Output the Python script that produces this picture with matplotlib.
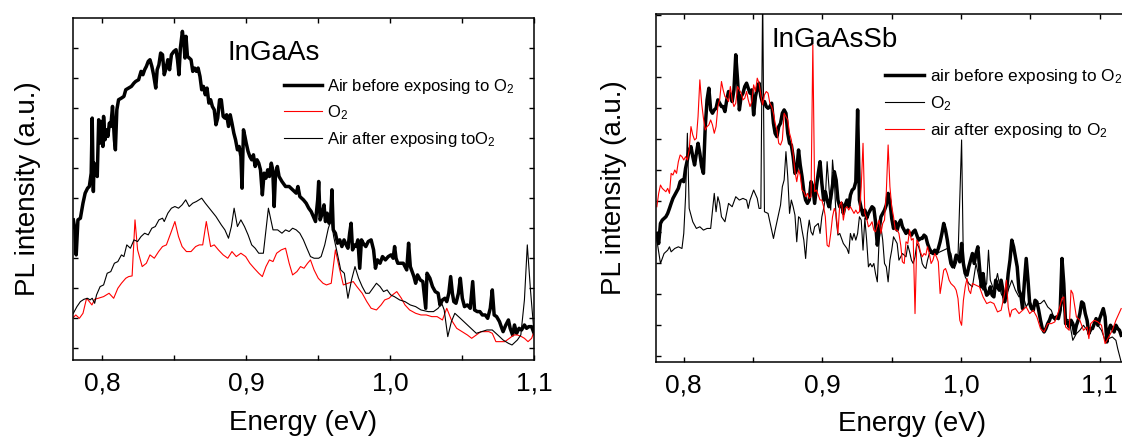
import matplotlib
matplotlib.use('Agg')
import matplotlib.pyplot as plt
from matplotlib.ticker import MultipleLocator, FixedLocator, FuncFormatter

plt.rcParams['font.family'] = 'Liberation Sans'
plt.rcParams['mathtext.fontset'] = 'custom'
plt.rcParams['mathtext.rm'] = 'Liberation Sans'
plt.rcParams['mathtext.it'] = 'Liberation Sans'

# ---------------- InGaAs (left panel) ----------------
energy_ingaas_before = [
    0.7802, 0.7814, 0.7822, 0.7834, 0.7851, 0.7869, 0.7884, 0.7901, 0.7913, 0.7926,
    0.7933, 0.7941, 0.7946, 0.7958, 0.7968, 0.7978, 0.7988, 0.7995, 0.8007, 0.8012,
    0.8022, 0.8032, 0.8042, 0.8052, 0.8062, 0.8074, 0.8087, 0.8094, 0.8104, 0.8116,
    0.8136, 0.8153, 0.8166, 0.8186, 0.8205, 0.8223, 0.8235, 0.8255, 0.8272, 0.8285,
    0.8297, 0.8309, 0.8322, 0.8334, 0.8347, 0.8359, 0.8374, 0.8384, 0.8396, 0.8408,
    0.8421, 0.8433, 0.8446, 0.8458, 0.8470, 0.8483, 0.8500, 0.8515, 0.8525, 0.8535,
    0.8545, 0.8552, 0.8559, 0.8569, 0.8577, 0.8584, 0.8594, 0.8606, 0.8619, 0.8631,
    0.8644, 0.8656, 0.8668, 0.8681, 0.8693, 0.8705, 0.8718, 0.8730, 0.8743, 0.8755,
    0.8767, 0.8780, 0.8792, 0.8804, 0.8817, 0.8829, 0.8842, 0.8854, 0.8866, 0.8879,
    0.8891, 0.8903, 0.8916, 0.8928, 0.8941, 0.8953, 0.8965, 0.8973, 0.8983, 0.8993,
    0.9002, 0.9015, 0.9027, 0.9040, 0.9052, 0.9064, 0.9077, 0.9089, 0.9101, 0.9114,
    0.9126, 0.9139, 0.9151, 0.9163, 0.9176, 0.9186, 0.9196, 0.9205, 0.9218, 0.9230,
    0.9250, 0.9275, 0.9300, 0.9324, 0.9349, 0.9361, 0.9374, 0.9399, 0.9418, 0.9436,
    0.9453, 0.9468, 0.9483, 0.9498, 0.9505, 0.9515, 0.9530, 0.9542, 0.9552, 0.9564,
    0.9577, 0.9587, 0.9597, 0.9606, 0.9621, 0.9636, 0.9651, 0.9666, 0.9681, 0.9696,
    0.9708, 0.9720, 0.9730, 0.9740, 0.9752, 0.9765, 0.9777, 0.9790, 0.9802, 0.9814,
    0.9832, 0.9849, 0.9869, 0.9886, 0.9899, 0.9913, 0.9931, 0.9948, 0.9968, 0.9988,
    1.0007, 1.0022, 1.0032, 1.0042, 1.0054, 1.0067, 1.0092, 1.0116, 1.0129, 1.0141,
    1.0166, 1.0178, 1.0191, 1.0210, 1.0228, 1.0248, 1.0257, 1.0277, 1.0295, 1.0314,
    1.0334, 1.0347, 1.0364, 1.0381, 1.0394, 1.0408, 1.0421, 1.0433, 1.0443, 1.0458,
    1.0475, 1.0488, 1.0502, 1.0517, 1.0537, 1.0557, 1.0574, 1.0587, 1.0606, 1.0624,
    1.0641, 1.0661, 1.0678, 1.0696, 1.0710, 1.0723, 1.0740, 1.0760, 1.0772, 1.0785,
    1.0804, 1.0822, 1.0834, 1.0851, 1.0864, 1.0879, 1.0896, 1.0913, 1.0933, 1.0948,
    1.0963, 1.0983, 1.1000]
pl_ingaas_before = [
    420, 390, 315, 420, 425, 470, 500, 515, 520, 560,
    725, 505, 590, 580, 550, 720, 650, 715, 640, 730,
    660, 690, 670, 710, 700, 760, 660, 630, 750, 780,
    785, 790, 810, 815, 820, 830, 835, 840, 865, 855,
    870, 880, 895, 900, 880, 855, 815, 870, 885, 920,
    915, 855, 875, 900, 870, 915, 925, 930, 900, 855,
    935, 960, 985, 950, 905, 970, 910, 905, 900, 865,
    875, 865, 875, 850, 810, 820, 795, 815, 770, 780,
    760, 750, 705, 725, 780, 780, 730, 725, 735, 700,
    735, 710, 680, 660, 630, 640, 610, 515, 690, 670,
    650, 625, 610, 600, 615, 580, 600, 590, 570, 495,
    560, 545, 570, 550, 590, 570, 460, 555, 580, 550,
    535, 520, 520, 510, 500, 520, 490, 480, 470, 455,
    445, 430, 415, 480, 535, 420, 440, 465, 415, 440,
    410, 420, 510, 390, 380, 350, 360, 340, 360, 345,
    335, 380, 410, 330, 345, 340, 360, 275, 360, 350,
    340, 355, 360, 330, 275, 300, 290, 310, 300, 310,
    315, 305, 340, 305, 290, 290, 290, 270, 350, 280,
    250, 230, 255, 240, 235, 155, 260, 245, 220, 205,
    200, 165, 180, 185, 175, 200, 250, 200, 175, 170,
    200, 245, 185, 160, 165, 155, 235, 150, 145, 145,
    135, 135, 125, 155, 210, 135, 130, 115, 100, 85,
    105, 120, 95, 75, 105, 80, 95, 90, 105, 95,
    100, 100, 80]

energy_ingaas_o2 = [
    0.7797, 0.7819, 0.7844, 0.7869, 0.7894, 0.7913, 0.7931, 0.7950, 0.7975, 0.8012,
    0.8050, 0.8082, 0.8111, 0.8136, 0.8166, 0.8186, 0.8210, 0.8230, 0.8248, 0.8280,
    0.8309, 0.8334, 0.8364, 0.8394, 0.8421, 0.8448, 0.8478, 0.8507, 0.8532, 0.8557,
    0.8587, 0.8619, 0.8651, 0.8676, 0.8700, 0.8725, 0.8755, 0.8780, 0.8809, 0.8842,
    0.8874, 0.8903, 0.8933, 0.8965, 0.8998, 0.9027, 0.9057, 0.9089, 0.9114, 0.9139,
    0.9163, 0.9188, 0.9213, 0.9245, 0.9275, 0.9300, 0.9324, 0.9354, 0.9379, 0.9403,
    0.9428, 0.9448, 0.9473, 0.9502, 0.9535, 0.9559, 0.9592, 0.9621, 0.9646, 0.9676,
    0.9708, 0.9745, 0.9770, 0.9807, 0.9839, 0.9869, 0.9906, 0.9938, 0.9963, 0.9993,
    1.0017, 1.0047, 1.0079, 1.0104, 1.0136, 1.0178, 1.0215, 1.0252, 1.0290, 1.0327,
    1.0364, 1.0394, 1.0426, 1.0463, 1.0500, 1.0537, 1.0567, 1.0599, 1.0631, 1.0661,
    1.0686, 1.0710, 1.0735, 1.0760, 1.0797, 1.0829, 1.0859, 1.0884, 1.0913, 1.0933,
    1.0958, 1.0983, 1.1000]
pl_ingaas_o2 = [
    125, 135, 125, 140, 185, 175, 165, 182, 185, 190,
    200, 185, 215, 230, 245, 250, 252, 420, 330, 280,
    290, 315, 305, 325, 340, 345, 380, 415, 370, 340,
    325, 325, 340, 345, 345, 415, 340, 345, 330, 315,
    305, 325, 310, 320, 310, 290, 275, 260, 250, 280,
    300, 295, 320, 330, 335, 290, 255, 265, 280, 275,
    290, 300, 270, 245, 230, 225, 230, 330, 280, 225,
    230, 235, 220, 200, 175, 155, 150, 165, 180, 185,
    195, 205, 185, 165, 150, 140, 135, 135, 130, 130,
    120, 155, 120, 95, 85, 75, 65, 75, 85, 85,
    85, 80, 55, 55, 55, 65, 75, 75, 70, 65,
    55, 65, 85]

energy_ingaas_after = [
    0.7802, 0.7827, 0.7851, 0.7876, 0.7901, 0.7918, 0.7933, 0.7950, 0.7963, 0.7988,
    0.8012, 0.8037, 0.8062, 0.8087, 0.8111, 0.8136, 0.8153, 0.8173, 0.8198, 0.8223,
    0.8248, 0.8272, 0.8297, 0.8322, 0.8347, 0.8371, 0.8396, 0.8421, 0.8433, 0.8458,
    0.8483, 0.8507, 0.8532, 0.8557, 0.8582, 0.8606, 0.8631, 0.8656, 0.8693, 0.8718,
    0.8755, 0.8792, 0.8829, 0.8854, 0.8879, 0.8899, 0.8918, 0.8941, 0.8965, 0.8990,
    0.9015, 0.9040, 0.9064, 0.9089, 0.9121, 0.9156, 0.9188, 0.9220, 0.9250, 0.9275,
    0.9300, 0.9324, 0.9349, 0.9374, 0.9399, 0.9423, 0.9448, 0.9473, 0.9505, 0.9522,
    0.9547, 0.9572, 0.9592, 0.9609, 0.9634, 0.9658, 0.9683, 0.9708, 0.9733, 0.9757,
    0.9782, 0.9807, 0.9832, 0.9856, 0.9881, 0.9906, 0.9931, 0.9955, 0.9980, 1.0005,
    1.0030, 1.0067, 1.0104, 1.0141, 1.0178, 1.0215, 1.0265, 1.0302, 1.0334, 1.0359,
    1.0376, 1.0401, 1.0426, 1.0450, 1.0488, 1.0525, 1.0562, 1.0599, 1.0636, 1.0673,
    1.0710, 1.0748, 1.0785, 1.0822, 1.0847, 1.0884, 1.0908, 1.0933, 1.0953, 1.0975,
    1.1000]
pl_ingaas_after = [
    140, 160, 175, 182, 185, 180, 185, 170, 195, 220,
    225, 260, 265, 290, 295, 315, 310, 345, 335, 360,
    355, 370, 380, 375, 395, 400, 420, 425, 415, 440,
    455, 460, 455, 465, 480, 460, 470, 475, 485, 470,
    450, 430, 405, 390, 365, 400, 455, 400, 420, 400,
    375, 345, 335, 320, 320, 455, 390, 390, 380, 390,
    385, 395, 390, 380, 360, 335, 310, 305, 305, 310,
    345, 395, 420, 370, 320, 270, 260, 185, 240, 280,
    245, 220, 200, 200, 215, 230, 220, 205, 210, 195,
    190, 180, 175, 165, 160, 150, 145, 145, 155, 170,
    150, 70, 115, 140, 125, 110, 95, 80, 85, 90,
    90, 75, 60, 50, 45, 60, 75, 180, 345, 210,
    80]

# ---------------- InGaAsSb (right panel) ----------------
energy_sb_before = [
    0.7806, 0.7819, 0.7832, 0.7845, 0.7858, 0.7871, 0.7884, 0.7897, 0.7909, 0.7922,
    0.7935, 0.7948, 0.7961, 0.7974, 0.7987, 0.8000, 0.8013, 0.8026, 0.8039, 0.8052,
    0.8065, 0.8078, 0.8091, 0.8103, 0.8116, 0.8129, 0.8142, 0.8155, 0.8168, 0.8181,
    0.8194, 0.8207, 0.8220, 0.8233, 0.8246, 0.8259, 0.8272, 0.8284, 0.8297, 0.8310,
    0.8323, 0.8336, 0.8349, 0.8362, 0.8375, 0.8388, 0.8401, 0.8414, 0.8427, 0.8440,
    0.8453, 0.8465, 0.8478, 0.8491, 0.8504, 0.8517, 0.8530, 0.8543, 0.8556, 0.8569,
    0.8582, 0.8595, 0.8608, 0.8621, 0.8634, 0.8647, 0.8659, 0.8672, 0.8685, 0.8698,
    0.8711, 0.8724, 0.8737, 0.8750, 0.8763, 0.8776, 0.8789, 0.8802, 0.8815, 0.8828,
    0.8840, 0.8853, 0.8866, 0.8879, 0.8892, 0.8905, 0.8918, 0.8931, 0.8944, 0.8957,
    0.8970, 0.8983, 0.8996, 0.9009, 0.9021, 0.9034, 0.9047, 0.9060, 0.9073, 0.9086,
    0.9099, 0.9112, 0.9125, 0.9138, 0.9151, 0.9164, 0.9177, 0.9190, 0.9202, 0.9215,
    0.9228, 0.9241, 0.9254, 0.9267, 0.9280, 0.9293, 0.9306, 0.9319, 0.9332, 0.9345,
    0.9358, 0.9371, 0.9383, 0.9396, 0.9409, 0.9422, 0.9435, 0.9448, 0.9461, 0.9474,
    0.9487, 0.9500, 0.9513, 0.9526, 0.9539, 0.9552, 0.9565, 0.9577, 0.9590, 0.9603,
    0.9616, 0.9629, 0.9642, 0.9655, 0.9668, 0.9681, 0.9694, 0.9707, 0.9720, 0.9733,
    0.9746, 0.9758, 0.9771, 0.9784, 0.9797, 0.9810, 0.9823, 0.9836, 0.9849, 0.9862,
    0.9875, 0.9888, 0.9901, 0.9914, 0.9927, 0.9940, 0.9952, 0.9965, 0.9978, 0.9991,
    1.0004, 1.0017, 1.0030, 1.0043, 1.0056, 1.0069, 1.0082, 1.0095, 1.0108, 1.0121,
    1.0133, 1.0146, 1.0159, 1.0172, 1.0185, 1.0198, 1.0211, 1.0224, 1.0237, 1.0250,
    1.0263, 1.0276, 1.0289, 1.0302, 1.0314, 1.0327, 1.0340, 1.0353, 1.0366, 1.0379,
    1.0392, 1.0405, 1.0418, 1.0431, 1.0444, 1.0457, 1.0470, 1.0483, 1.0495, 1.0508,
    1.0521, 1.0534, 1.0547, 1.0560, 1.0573, 1.0586, 1.0599, 1.0612, 1.0625, 1.0638,
    1.0651, 1.0664, 1.0676, 1.0689, 1.0702, 1.0715, 1.0728, 1.0741, 1.0754, 1.0767,
    1.0780, 1.0793, 1.0806, 1.0819, 1.0832, 1.0845, 1.0857, 1.0870, 1.0883, 1.0896,
    1.0909, 1.0922, 1.0935, 1.0948, 1.0961, 1.0974, 1.0987, 1.1000, 1.1013, 1.1026,
    1.1039, 1.1052, 1.1065, 1.1078, 1.1091, 1.1104, 1.1117, 1.1130, 1.1143, 1.1155]
pl_sb_before = [
    385, 355, 415, 425, 430, 435, 445, 460, 475, 490,
    500, 510, 520, 540, 545, 540, 580, 605, 635, 645,
    615, 590, 625, 655, 625, 585, 565, 705, 785, 820,
    755, 745, 755, 760, 785, 775, 765, 765, 750, 785,
    810, 800, 780, 815, 920, 845, 755, 795, 805, 825,
    835, 820, 805, 815, 740, 795, 820, 835, 795, 775,
    780, 765, 760, 765, 775, 715, 685, 675, 705, 715,
    745, 755, 745, 685, 655, 650, 615, 565, 575, 635,
    590, 555, 510, 485, 475, 485, 540, 525, 475, 525,
    565, 600, 535, 485, 510, 485, 465, 490, 530, 570,
    545, 485, 465, 475, 445, 470, 485, 465, 500, 515,
    520, 540, 755, 485, 460, 440, 455, 430, 445, 455,
    465, 460, 420, 350, 395, 435, 445, 455, 470, 505,
    480, 430, 400, 420, 395, 415, 425, 405, 395, 385,
    395, 385, 380, 390, 395, 380, 365, 370, 370, 380,
    375, 355, 340, 330, 325, 335, 325, 340, 360, 385,
    415, 395, 365, 325, 295, 285, 295, 320, 315, 300,
    355, 295, 265, 260, 285, 305, 325, 295, 325, 345,
    285, 225, 265, 220, 200, 205, 225, 200, 195, 245,
    225, 215, 245, 215, 180, 205, 265, 305, 365, 345,
    315, 285, 215, 200, 160, 240, 310, 245, 175, 160,
    155, 185, 180, 155, 125, 100, 90, 100, 115, 125,
    140, 135, 130, 135, 130, 155, 310, 235, 115, 120,
    105, 125, 115, 85, 110, 125, 145, 180, 175, 145,
    125, 85, 100, 100, 115, 130, 110, 130, 145, 160,
    135, 60, 95, 110, 100, 90, 110, 100, 95, 80]

energy_sb_o2 = [
    0.7806, 0.7832, 0.7858, 0.7884, 0.7897, 0.7909, 0.7935, 0.7961, 0.7987, 0.8000,
    0.8013, 0.8026, 0.8039, 0.8065, 0.8091, 0.8116, 0.8142, 0.8168, 0.8194, 0.8220,
    0.8233, 0.8246, 0.8259, 0.8272, 0.8297, 0.8323, 0.8349, 0.8375, 0.8401, 0.8427,
    0.8453, 0.8465, 0.8478, 0.8504, 0.8530, 0.8543, 0.8556, 0.8569, 0.8582, 0.8608,
    0.8621, 0.8634, 0.8647, 0.8659, 0.8685, 0.8698, 0.8711, 0.8724, 0.8737, 0.8750,
    0.8763, 0.8776, 0.8789, 0.8802, 0.8815, 0.8828, 0.8840, 0.8853, 0.8866, 0.8879,
    0.8892, 0.8905, 0.8918, 0.8931, 0.8944, 0.8970, 0.8983, 0.8996, 0.9009, 0.9021,
    0.9034, 0.9047, 0.9060, 0.9073, 0.9086, 0.9099, 0.9112, 0.9125, 0.9151, 0.9177,
    0.9190, 0.9202, 0.9215, 0.9228, 0.9241, 0.9254, 0.9267, 0.9280, 0.9293, 0.9306,
    0.9319, 0.9332, 0.9345, 0.9358, 0.9371, 0.9383, 0.9396, 0.9409, 0.9422, 0.9435,
    0.9448, 0.9461, 0.9474, 0.9487, 0.9500, 0.9513, 0.9526, 0.9539, 0.9552, 0.9565,
    0.9577, 0.9590, 0.9603, 0.9616, 0.9629, 0.9642, 0.9655, 0.9668, 0.9681, 0.9694,
    0.9707, 0.9720, 0.9733, 0.9746, 0.9758, 0.9771, 0.9797, 0.9823, 0.9849, 0.9875,
    0.9901, 0.9927, 0.9940, 0.9952, 0.9965, 0.9978, 1.0004, 1.0017, 1.0030, 1.0056,
    1.0082, 1.0108, 1.0133, 1.0159, 1.0185, 1.0198, 1.0211, 1.0237, 1.0263, 1.0289,
    1.0314, 1.0340, 1.0366, 1.0392, 1.0418, 1.0444, 1.0470, 1.0495, 1.0521, 1.0547,
    1.0573, 1.0599, 1.0625, 1.0651, 1.0676, 1.0702, 1.0715, 1.0728, 1.0741, 1.0754,
    1.0780, 1.0806, 1.0832, 1.0857, 1.0883, 1.0909, 1.0935, 1.0961, 1.0987, 1.1013,
    1.1039, 1.1065, 1.1091, 1.1117, 1.1130, 1.1155]
pl_sb_o2 = [
    365, 295, 325, 335, 345, 330, 340, 345, 340, 385,
    495, 685, 460, 420, 400, 405, 395, 400, 400, 505,
    450, 495, 475, 435, 420, 475, 465, 495, 485, 490,
    485, 460, 485, 515, 490, 460, 460, 1105, 450, 445,
    420, 395, 370, 395, 445, 470, 525, 545, 630, 555,
    445, 485, 465, 440, 360, 435, 430, 395, 365, 310,
    385, 425, 390, 380, 405, 415, 385, 435, 460, 490,
    600, 525, 455, 605, 545, 430, 380, 385, 355, 340,
    325, 385, 365, 385, 365, 385, 435, 425, 335, 430,
    365, 285, 295, 285, 295, 265, 240, 365, 405, 365,
    295, 285, 240, 305, 335, 375, 365, 355, 305, 315,
    325, 320, 315, 350, 330, 305, 295, 315, 355, 345,
    325, 295, 285, 280, 305, 325, 325, 325, 330, 335,
    340, 325, 295, 280, 295, 315, 665, 290, 255, 235,
    225, 295, 245, 215, 235, 335, 245, 215, 265, 205,
    185, 215, 245, 215, 195, 205, 165, 185, 160, 175,
    175, 185, 165, 155, 125, 135, 150, 185, 160, 130,
    125, 65, 85, 95, 110, 95, 90, 120, 110, 95,
    65, 70, 75, 65, 40, 0]

energy_sb_after = [
    0.7806, 0.7819, 0.7832, 0.7845, 0.7858, 0.7871, 0.7884, 0.7897, 0.7909, 0.7922,
    0.7935, 0.7948, 0.7961, 0.7974, 0.7987, 0.8000, 0.8013, 0.8026, 0.8039, 0.8052,
    0.8065, 0.8078, 0.8091, 0.8103, 0.8116, 0.8129, 0.8142, 0.8155, 0.8168, 0.8181,
    0.8194, 0.8207, 0.8220, 0.8233, 0.8246, 0.8259, 0.8272, 0.8284, 0.8297, 0.8310,
    0.8323, 0.8336, 0.8349, 0.8362, 0.8375, 0.8388, 0.8401, 0.8414, 0.8427, 0.8440,
    0.8453, 0.8465, 0.8478, 0.8491, 0.8504, 0.8517, 0.8530, 0.8543, 0.8556, 0.8569,
    0.8582, 0.8595, 0.8608, 0.8621, 0.8634, 0.8647, 0.8659, 0.8672, 0.8685, 0.8698,
    0.8711, 0.8724, 0.8737, 0.8750, 0.8763, 0.8776, 0.8789, 0.8802, 0.8815, 0.8828,
    0.8840, 0.8853, 0.8866, 0.8879, 0.8892, 0.8905, 0.8918, 0.8931, 0.8944, 0.8957,
    0.8970, 0.8983, 0.8996, 0.9009, 0.9021, 0.9034, 0.9047, 0.9060, 0.9073, 0.9086,
    0.9099, 0.9112, 0.9125, 0.9138, 0.9151, 0.9164, 0.9177, 0.9190, 0.9202, 0.9215,
    0.9228, 0.9241, 0.9254, 0.9267, 0.9280, 0.9293, 0.9306, 0.9319, 0.9332, 0.9345,
    0.9358, 0.9371, 0.9383, 0.9396, 0.9409, 0.9422, 0.9435, 0.9448, 0.9461, 0.9474,
    0.9487, 0.9500, 0.9513, 0.9526, 0.9539, 0.9552, 0.9565, 0.9577, 0.9590, 0.9603,
    0.9616, 0.9629, 0.9642, 0.9655, 0.9668, 0.9681, 0.9694, 0.9707, 0.9720, 0.9733,
    0.9746, 0.9758, 0.9771, 0.9784, 0.9797, 0.9810, 0.9823, 0.9836, 0.9849, 0.9862,
    0.9875, 0.9888, 0.9901, 0.9914, 0.9927, 0.9940, 0.9952, 0.9965, 0.9978, 0.9991,
    1.0004, 1.0017, 1.0030, 1.0043, 1.0056, 1.0069,
    1.0082, 1.0108, 1.0133, 1.0159, 1.0185, 1.0211, 1.0237, 1.0263, 1.0289, 1.0314,
    1.0327, 1.0340, 1.0353, 1.0366, 1.0392, 1.0418, 1.0444, 1.0470, 1.0495, 1.0521,
    1.0547, 1.0573, 1.0599, 1.0625, 1.0651, 1.0676, 1.0702, 1.0728, 1.0741, 1.0754,
    1.0780, 1.0793, 1.0806, 1.0832, 1.0857, 1.0883, 1.0909, 1.0922, 1.0935, 1.0961,
    1.0987, 1.1013, 1.1039, 1.1065, 1.1091, 1.1117, 1.1155]
pl_sb_after = [
    465, 505, 530, 520, 515, 510, 520, 505, 565, 560,
    575, 565, 600, 620, 615, 605, 615, 605, 635, 705,
    680, 665, 670, 735, 845, 775, 730, 695, 705, 710,
    725, 710, 685, 705, 765, 785, 840, 815, 795, 790,
    780, 825, 785, 765, 775, 825, 815, 805, 785, 790,
    810, 785, 765, 780, 830, 810, 850, 835, 800, 770,
    800, 810, 805, 775, 765, 745, 715, 695, 655, 650,
    665, 745, 735, 725, 685, 665, 625, 570, 540, 575,
    560, 515, 510, 495, 505, 490, 495, 950, 510, 515,
    500, 485, 485, 465, 435, 350, 345, 385, 435, 460,
    445, 385, 470, 480, 425, 460, 465, 455, 465, 455,
    445, 455, 445, 450, 525, 655, 445, 430, 405, 410,
    420, 395, 390, 410, 425, 385, 415, 425, 510, 650,
    525, 465, 435, 395, 395, 385, 350, 300, 295, 360,
    355, 395, 365, 370, 145, 365, 355, 330, 315, 325,
    320, 345, 325, 295, 305, 325, 315, 300, 205, 240,
    275, 280, 265, 245, 235, 230, 225, 215, 190, 125,
    110, 185, 225, 250, 215, 205,
    235, 230, 225, 195, 175, 180, 175, 150, 155, 205,
    245, 165, 135, 155, 160, 145, 155, 165, 145, 155,
    135, 100, 90, 115, 115, 120, 150, 190, 195, 105,
    95, 215, 205, 135, 125, 95, 105, 70, 115, 125,
    120, 110, 55, 75, 95, 125, 160]


def comma_fmt(v, pos):
    return f'{v:.1f}'.replace('.', ',')


def style_axes(ax, xlim, ylim, yticks):
    ax.set_xlim(*xlim)
    ax.set_ylim(*ylim)
    ax.xaxis.set_major_locator(MultipleLocator(0.1))
    ax.xaxis.set_minor_locator(MultipleLocator(0.05))
    ax.xaxis.set_major_formatter(FuncFormatter(comma_fmt))
    ax.yaxis.set_major_locator(FixedLocator(yticks))
    ax.tick_params(which='both', direction='in', top=True, right=True,
                   length=3.5, width=1, labelsize=19, pad=8)
    ax.tick_params(axis='y', labelleft=False)
    for s in ax.spines.values():
        s.set_linewidth(1.1)


fig = plt.figure(figsize=(11.22, 4.37), dpi=100)

# Левая панель: InGaAs
ax1 = fig.add_axes([0.0651, 0.1762, 0.4109, 0.7826])
ax1.plot(energy_ingaas_before, pl_ingaas_before, color='black', linewidth=2.5,
         label='Air before exposing to O$_2$')
ax1.plot(energy_ingaas_o2, pl_ingaas_o2, color='red', linewidth=0.8,
         label='O$_2$')
ax1.plot(energy_ingaas_after, pl_ingaas_after, color='black', linewidth=0.8,
         label='Air after exposing toO$_2$')
style_axes(ax1, (0.78, 1.1), (0, 1025), list(range(36, 1025, 90)))
ax1.set_xlabel('Energy (eV)', fontsize=20)
ax1.set_ylabel('PL intensity (a.u.)', fontsize=20)
ax1.xaxis.set_label_coords(0.5, -0.147)
ax1.yaxis.set_label_coords(-0.069, 0.5)
ax1.text(0.336, 0.878, 'InGaAs', transform=ax1.transAxes, fontsize=20,
         va='baseline', ha='left')
ax1.legend(loc='upper left', bbox_to_anchor=(0.458, 0.828), frameon=False,
           fontsize=12, handlelength=2.25, handletextpad=0.3,
           labelspacing=0.45, borderpad=0, borderaxespad=0)

# Правая панель: InGaAsSb (обрезана справа)
ax2 = fig.add_axes([0.5847, 0.1716, 0.4572, 0.797])
ax2.plot(energy_sb_before, pl_sb_before, color='black', linewidth=2.5,
         label='air before exposing to O$_2$')
ax2.plot(energy_sb_o2, pl_sb_o2, color='black', linewidth=0.8,
         label='O$_2$')
ax2.plot(energy_sb_after, pl_sb_after, color='red', linewidth=0.8,
         label='air after exposing to O$_2$')
style_axes(ax2, (0.78, 1.15), (0, 1043), list(range(17, 1043, 93)))
ax2.set_xlabel('Energy (eV)', fontsize=20)
ax2.set_ylabel('PL intensity (a.u.)', fontsize=20)
ax2.xaxis.set_label_coords(0.5, -0.14)
ax2.yaxis.set_label_coords(-0.0565, 0.5)
ax2.text(0.226, 0.904, 'InGaAsSb', transform=ax2.transAxes, fontsize=20,
         va='baseline', ha='left')
ax2.legend(loc='upper left', bbox_to_anchor=(0.446, 0.846), frameon=False,
           fontsize=12.4, handlelength=2.3, handletextpad=0.3,
           labelspacing=0.45, borderpad=0, borderaxespad=0)

fig.savefig('out.png', dpi=100)
plt.close(fig)
